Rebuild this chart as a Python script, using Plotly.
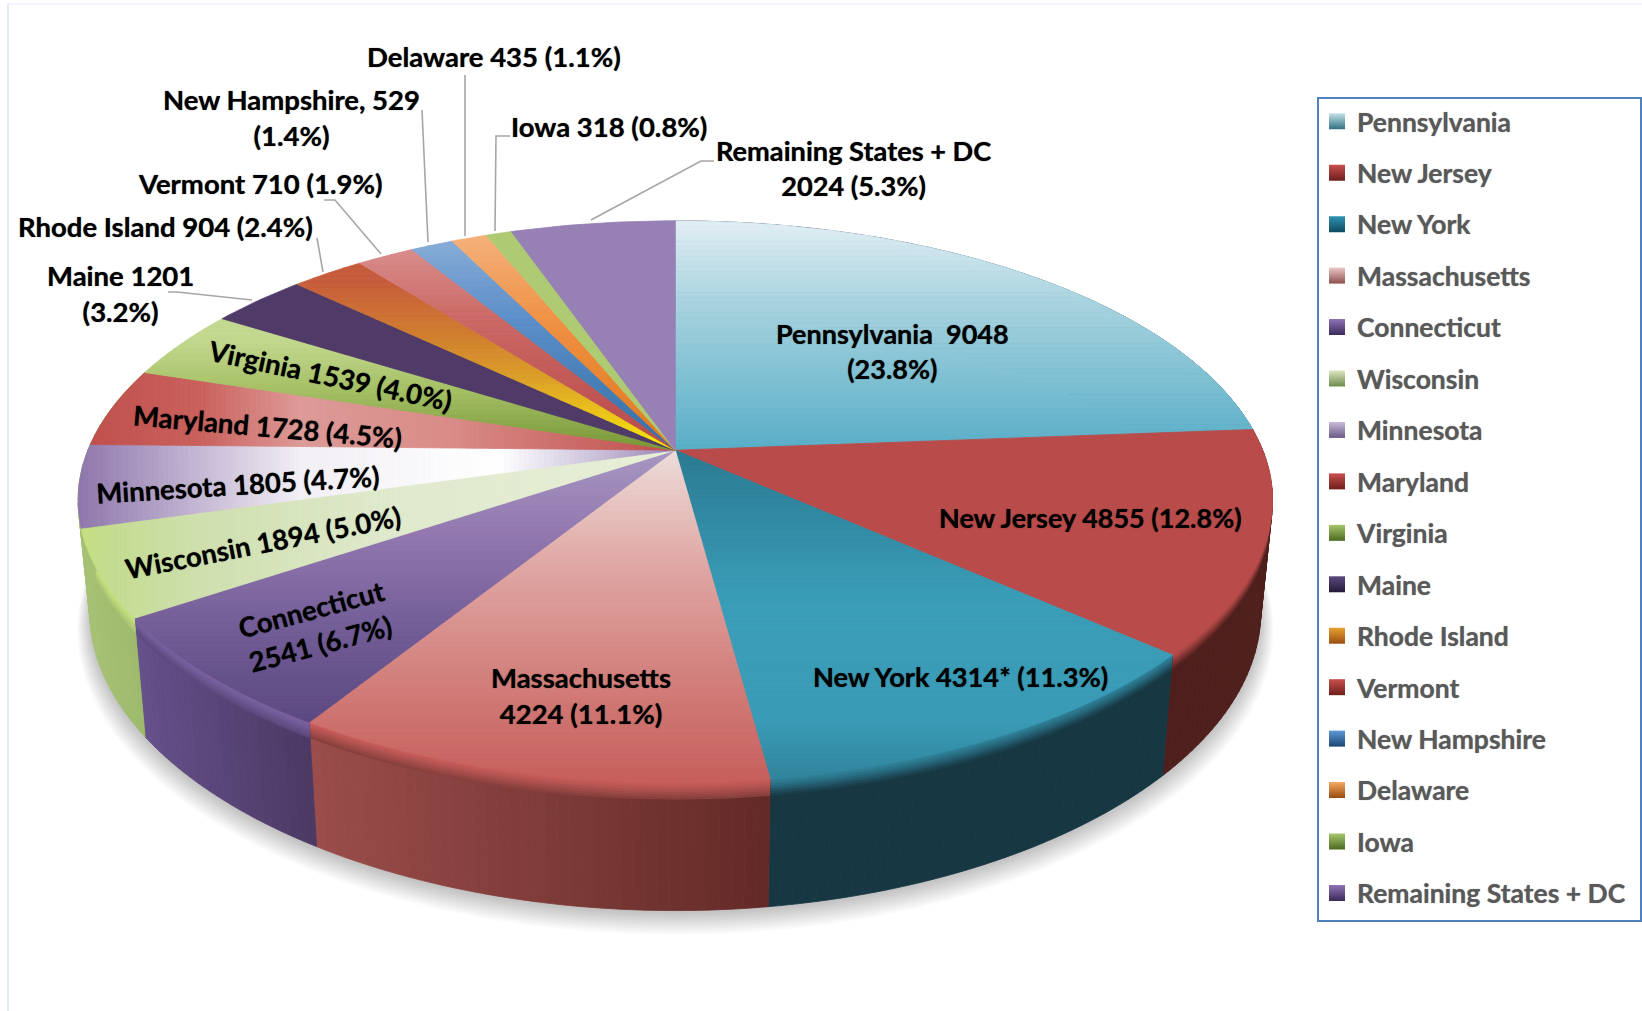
import math
import plotly.graph_objects as go

# ---------- data ----------
states = ["Pennsylvania", "New Jersey", "New York", "Massachusetts", "Connecticut", "Wisconsin",
          "Minnesota", "Maryland", "Virginia", "Maine", "Rhode Island", "Vermont",
          "New Hampshire", "Delaware", "Iowa", "Remaining States + DC"]
values = [9048, 4855, 4314, 4224, 2541, 1894, 1805, 1728, 1539, 1201, 904, 710, 529, 435, 318, 2024]
label_texts = ["Pennsylvania  9048<br>(23.8%)", "New Jersey 4855 (12.8%)", "New York 4314* (11.3%)",
               "Massachusetts<br>4224 (11.1%)", "Connecticut<br>2541 (6.7%)", "Wisconsin 1894 (5.0%)",
               "Minnesota 1805 (4.7%)", "Maryland 1728 (4.5%)", "Virginia 1539 (4.0%)",
               "Maine 1201<br>(3.2%)", "Rhode Island 904 (2.4%)", "Vermont 710 (1.9%)",
               "New Hampshire, 529<br>(1.4%)", "Delaware 435 (1.1%)", "Iowa 318 (0.8%)",
               "Remaining States + DC<br>2024 (5.3%)"]

# ---------- styling ----------
W, H = 1642, 1011
CX, CY = 675.3, 450.2     # apex of the pie on the page
A, B, P = 587.4, 271.6, 0.184   # projection of the disc
NARROW = 0.018            # the front of the disc is a little narrower than a true ellipse
D, SHRINK = 109.5, 0.98   # thickness of the disc

top_grad = [
    ("y", [(221, "#e2eff4"), (300, "#aad4e0"), (450, "#58aec7")]),
    ("y", [(0, "#b94c4b"), (1011, "#b94c4b")]),
    ("y", [(450, "#2a7a91"), (600, "#3a9db8"), (720, "#3a9bb6"), (790, "#2f8098")]),
    ("y", [(450, "#edddda"), (560, "#e0a9a6"), (700, "#d07874"), (790, "#c65c5a")]),
    ("y", [(450, "#a897c2"), (540, "#9076ae"), (640, "#6f5a94"), (730, "#5b4780")]),
    ("x", [(78, "#c6e07e"), (110, "#c4dc90"), (200, "#cfdfae"), (380, "#dfe9cc"), (675, "#e8efd8")]),
    ("x", [(78, "#8e76ac"), (200, "#c5b8d4"), (300, "#f2eff5"), (500, "#ffffff"), (600, "#c9bfd8"), (675, "#9882b4")]),
    ("x", [(90, "#c0504d"), (200, "#c9605c"), (300, "#dd9a97"), (450, "#d98c88"), (675, "#bf4f4c")]),
    ("y", [(340, "#c3d88f"), (390, "#a5c065"), (445, "#7b9a3a")]),
    ("y", [(0, "#4f3a68"), (1011, "#4f3a68")]),
    ("y", [(280, "#c65b3c"), (330, "#cf7a30"), (380, "#dca028"), (425, "#efd015"), (448, "#fbee00")]),
    ("y", [(255, "#d88a88"), (320, "#ca6763"), (445, "#b94c4b")]),
    ("y", [(245, "#85aad6"), (320, "#5b8ec8"), (445, "#3670a8")]),
    ("y", [(235, "#f5b07a"), (330, "#ee8e40"), (445, "#e07a20")]),
    ("y", [(0, "#aecb74"), (1011, "#aecb74")]),
    ("y", [(0, "#9680b4"), (1011, "#9680b4")]),
]
wall_grad = [
    [(0, "#4a3a58"), (1642, "#4a3a58")],
    [(0, "#4e1f1c"), (1642, "#4e1f1c")],
    [(0, "#173742"), (1642, "#173742")],
    [(310, "#9a4d4a"), (770, "#632a27")],
    [(135, "#65508a"), (315, "#4a3862")],
    [(85, "#a6c173"), (147, "#9cb86a")],
    [(0, "#a6c173"), (1642, "#a6c173")],
    [(0, "#a6c173"), (1642, "#a6c173")],
]
rim_colors = ["#58aec7", "#b94c4b", "#2f8098", "#c65c5a", "#7a62a0", "#c6e07e", "#a6c173", "#a6c173"]
legend_light = ["#c5e3ea", "#c9504e", "#2f94b4", "#eac8c6", "#8f74b8", "#dbe8c4", "#c8bcd8", "#c9504e",
                "#a6c66a", "#5b4a80", "#e8a030", "#c9504e", "#5b9ad8", "#f5a860", "#a6c66a", "#8f74b8"]
legend_dark = ["#2f7082", "#6e1e1c", "#0f4a5e", "#8e4f4d", "#3a2a58", "#6e8a4a", "#6a5a86", "#6e1e1c",
               "#4d6a22", "#241a38", "#9a5010", "#6e1e1c", "#1d4570", "#9a4c10", "#4d6a22", "#3a2a58"]

label_pos = [(892, 351, 0, 27), (1090, 517, 0, 27), (960, 676, 0, 27.2), (581, 695, 0, 27.5),
             (316, 626, -15, 27.5), (263, 542, -11, 27.5), (238, 484, -3.5, 27.5), (268, 426, 5, 27.5),
             (330, 375, 12, 27.5), (120, 293, 0, 27.5), (165, 226, 0, 27.5), (260, 183, 0, 27.5),
             (291, 117, 0, 27.5), (494, 56, 0, 27.5), (609, 126, 0, 27.5), (853, 168, 0, 27.2)]
leaders = [
    [(465, 75), (465, 236)],
    [(422, 110), (428, 242)],
    [(510, 136), (496, 136), (495, 231)],
    [(714, 161), (701, 161), (591, 220)],
    [(324, 200), (335, 200), (381, 254)],
    [(317, 238), (323, 272)],
    [(168, 292), (177, 292), (252, 300)],
]

FONT = "Lato, Carlito, Calibri, sans-serif"


# ---------- helpers ----------
def hex2rgb(c):
    return tuple(int(c[i:i + 2], 16) for i in (1, 3, 5))


def mix(c1, c2, f):
    a, b = hex2rgb(c1), hex2rgb(c2)
    return "#%02x%02x%02x" % tuple(round(a[i] + (b[i] - a[i]) * f) for i in range(3))


def ramp(stops, p):
    if p <= stops[0][0]:
        return stops[0][1]
    for (p0, c0), (p1, c1) in zip(stops, stops[1:]):
        if p <= p1:
            return mix(c0, c1, (p - p0) / (p1 - p0))
    return stops[-1][1]


def narrow(v):
    return 1 - NARROW * v * v if v < 0 else 1.0


def top_pt(t):
    u, v = math.sin(t), math.cos(t)
    w = 1 + P * v
    return CX + A * narrow(v) * u / w, CY - B * v / w


def bottom_pt(t, f=1.0):
    u, v = math.sin(t), math.cos(t)
    w = 1 + P * v
    s = 1 - (1 - SHRINK) * f
    return CX + s * A * narrow(v) * u / w, CY - s * B * v / w + f * D / w


def arc(t0, t1):
    n = max(6, int(abs(t1 - t0) / math.radians(1.0)))
    return [t0 + (t1 - t0) * i / n for i in range(n + 1)]


def clip(poly, idx, lo, hi):
    def half(pts, keep, inter):
        out = []
        for i, p in enumerate(pts):
            q = pts[(i + 1) % len(pts)]
            kp, kq = keep(p), keep(q)
            if kp:
                out.append(p)
            if kp != kq:
                out.append(inter(p, q))
        return out

    def at(val):
        def f(p, q):
            r = (val - p[idx]) / (q[idx] - p[idx])
            return (p[0] + (q[0] - p[0]) * r, p[1] + (q[1] - p[1]) * r)
        return f

    out = half(poly, lambda p: p[idx] >= lo, at(lo))
    return half(out, lambda p: p[idx] <= hi, at(hi)) if out else out


fig = go.Figure()


def fill(poly, color, opacity=None, line=True):
    xs = [p[0] for p in poly] + [poly[0][0]]
    ys = [p[1] for p in poly] + [poly[0][1]]
    fig.add_trace(go.Scatter(x=xs, y=ys, mode="lines", fill="toself", fillcolor=color,
                             line=dict(color=color, width=0.8 if line else 0), opacity=opacity,
                             hoverinfo="skip", showlegend=False))


# angles from the values
total = sum(values)
edges = [0.0]
for val in values:
    edges.append(edges[-1] + val / total * 2 * math.pi)

# soft shadow under the disc
rim = arc(0, 2 * math.pi)
for k in range(12):
    g = 1.0 + 0.002 * k
    pts = []
    for t in rim:
        x, y = bottom_pt(t)
        pts.append((CX + (x - CX) * g, CY + 3 + k * 1.0 + (y - CY) * g))
    fig.add_trace(go.Scatter(x=[p[0] for p in pts], y=[p[1] for p in pts], mode="lines", fill="toself",
                             fillcolor="rgba(0,0,0,0.02)", line=dict(width=0),
                             hoverinfo="skip", showlegend=False))

# walls, only the slices that face the viewer
for i, stops in enumerate(wall_grad):
    ts = arc(edges[i], edges[i + 1])
    step = max(1, len(ts) // 25)
    sel = ts[::step]
    if sel[-1] != ts[-1]:
        sel.append(ts[-1])
    for t0, t1 in zip(sel, sel[1:]):
        mid = top_pt((t0 + t1) / 2)[0]
        fill([top_pt(t0), top_pt(t1), bottom_pt(t1), bottom_pt(t0)], ramp(stops, mid))
    # soft bevel between the top face and the wall
    dark = ramp(stops, top_pt((ts[0] + ts[-1]) / 2)[0])
    for f0, m in ((0.13, 0.12), (0.11, 0.28), (0.09, 0.45), (0.07, 0.62), (0.05, 0.78), (0.03, 0.9), (0.015, 0.97)):
        upper = [top_pt(t) for t in ts]
        lower = [bottom_pt(t, f0) for t in reversed(ts)]
        fill(upper + lower, mix(dark, rim_colors[i], m), line=False)

# top faces, painted band by band
for i, (axis, stops) in enumerate(top_grad):
    poly = [(CX, CY)] + [top_pt(t) for t in arc(edges[i], edges[i + 1])]
    idx = 0 if axis == "x" else 1
    lo = min(p[idx] for p in poly)
    hi = max(p[idx] for p in poly)
    if stops[0][1] == stops[-1][1] and len(stops) == 2:
        fill(poly, stops[0][1])
        continue
    step = 5.0
    n = max(1, int((hi - lo) / step))
    for k in range(n):
        b0 = lo + (hi - lo) * k / n
        b1 = lo + (hi - lo) * (k + 1) / n
        part = clip(poly, idx, b0, b1)
        if len(part) >= 3:
            fill(part, ramp(stops, (b0 + b1) / 2))

# leader lines
for seg in leaders:
    fig.add_trace(go.Scatter(x=[p[0] for p in seg], y=[p[1] for p in seg], mode="lines",
                             line=dict(color="#a6a6a6", width=1.6), hoverinfo="skip", showlegend=False))

# legend entries
for name, c1, c2 in zip(states, legend_light, legend_dark):
    fig.add_trace(go.Scatter(x=[None], y=[None], mode="markers", name=name, legendgroup=name,
                             marker=dict(symbol="square", size=18, color=c1,
                                         gradient=dict(type="vertical", color=c2))))

annotations = [dict(x=x, y=y, text=txt, textangle=ang, showarrow=False, xref="x", yref="y",
                    xanchor="center", yanchor="middle", align="center",
                    font=dict(family=FONT, size=size, color="#000000", weight="bold",
                              shadow="0px 0px 1px rgba(0,0,0,0.7)"))
               for txt, (x, y, ang, size) in zip(label_texts, label_pos)]

fig.update_layout(
    width=W, height=H, margin=dict(l=0, r=0, t=0, b=0), autosize=False,
    paper_bgcolor="white", plot_bgcolor="white",
    xaxis=dict(range=[0, W], visible=False, fixedrange=True),
    yaxis=dict(range=[H, 0], visible=False, fixedrange=True),
    annotations=annotations,
    legend=dict(x=1317 / W, y=1 - 97.5 / H, xanchor="left", yanchor="top", bgcolor="rgba(0,0,0,0)",
                font=dict(family=FONT, size=26.5, color="#595959", weight="bold",
                          shadow="0px 0px 1px rgba(89,89,89,0.7)"),
                tracegroupgap=14, itemsizing="trace", itemclick=False, itemdoubleclick=False),
    shapes=[
        dict(type="rect", xref="x", yref="y", x0=1318, y0=98, x1=1641, y1=921,
             line=dict(color="#4f81bd", width=2), layer="below"),
        dict(type="line", xref="x", yref="y", x0=8, y0=4, x1=8, y1=H,
             line=dict(color="#dbe5f1", width=1.5), layer="below"),
        dict(type="line", xref="x", yref="y", x0=8, y0=4, x1=W, y1=4,
             line=dict(color="#eef3f9", width=1.5), layer="below"),
    ],
)

fig.write_html("out.html", config=dict(displayModeBar=False),
               post_script="document.body.style.margin='0';")
